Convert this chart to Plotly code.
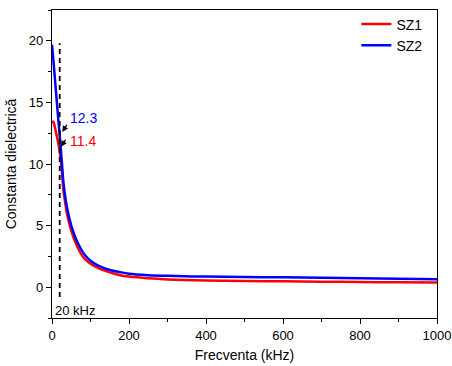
import plotly.graph_objects as go

freq_sz1 = [0, 3, 6, 10, 15, 20, 25, 30, 35, 40, 50, 60, 70, 80, 90, 100, 120, 150, 177, 200, 250, 300, 400, 500, 600, 700, 800, 900, 1000]
sz1 = [13.3, 13.45, 13.2, 12.6, 11.9, 11.0, 9.6, 7.8, 6.7, 5.8, 4.6, 3.7, 3.0, 2.5, 2.15, 1.9, 1.55, 1.2, 0.97, 0.86, 0.72, 0.63, 0.54, 0.5, 0.48, 0.45, 0.42, 0.4, 0.38]

freq_sz2 = [0, 5, 10, 15, 20, 25, 30, 35, 40, 50, 60, 70, 80, 90, 100, 120, 150, 177, 200, 250, 300, 400, 500, 600, 700, 800, 900, 1000]
sz2 = [19.7, 17.9, 16.0, 14.1, 12.3, 10.4, 8.4, 7.2, 6.3, 5.0, 4.1, 3.4, 2.85, 2.45, 2.15, 1.75, 1.4, 1.22, 1.1, 0.98, 0.92, 0.86, 0.82, 0.8, 0.76, 0.72, 0.68, 0.65]

marker_freq = 20
marker_y = [-0.8, 19.8]
label_sz1 = "11.4"
label_sz2 = "12.3"

FONT = "Liberation Sans, Arial, sans-serif"

fig = go.Figure()
fig.add_trace(go.Scatter(x=freq_sz1, y=sz1, mode="lines", name="SZ1",
                         line=dict(color="#ff0000", width=2.5, shape="spline")))
fig.add_trace(go.Scatter(x=freq_sz2, y=sz2, mode="lines", name="SZ2",
                         line=dict(color="#0000ff", width=2.5, shape="spline")))
fig.add_trace(go.Scatter(x=[marker_freq, marker_freq], y=marker_y, mode="lines",
                         showlegend=False,
                         line=dict(color="black", width=1.8, dash="5px,4px")))

# arrows
fig.add_annotation(x=26.8, y=12.6, ax=40.8, ay=13.3, axref="x", ayref="y",
                   text="", showarrow=True, arrowhead=2, arrowsize=1, arrowwidth=1.2,
                   arrowcolor="black")
fig.add_annotation(x=23.4, y=11.4, ax=38, ay=12.1, axref="x", ayref="y",
                   text="", showarrow=True, arrowhead=2, arrowsize=1, arrowwidth=1.2,
                   arrowcolor="black")
fig.add_annotation(x=41.5, y=13.75, text=label_sz2, showarrow=False, xanchor="left",
                   font=dict(family=FONT, size=14, color="#0000ff"))
fig.add_annotation(x=42, y=11.87, text=label_sz1, showarrow=False, xanchor="left",
                   font=dict(family=FONT, size=14, color="#ff0000"))
fig.add_annotation(x=2.0, y=-1.9, text="20 kHz", showarrow=False, xanchor="left",
                   font=dict(family=FONT, size=13, color="black"))

fig.update_layout(
    width=452, height=366,
    margin=dict(l=52, r=15, t=10, b=48, autoexpand=False),
    paper_bgcolor="white", plot_bgcolor="white",
    font=dict(family=FONT, size=12, color="black"),
    legend=dict(x=0.975, y=1.005, xanchor="right", yanchor="top",
                bgcolor="rgba(0,0,0,0)", font=dict(size=14, family=FONT),
                tracegroupgap=0, itemwidth=30),
    xaxis=dict(range=[0, 1000], tickvals=[0, 200, 400, 600, 800, 1000],
               ticks="outside", ticklen=5, tickwidth=1.2, tickcolor="black",
               minor=dict(tickvals=[100, 300, 500, 700, 900], ticks="outside", ticklen=3, tickcolor="black"),
               showline=True, linecolor="black", linewidth=1.3, mirror=True,
               showgrid=False, zeroline=False, automargin=False,
               tickfont=dict(size=13),
               title=dict(text="Frecventa (kHz)", font=dict(size=14), standoff=8)),
    yaxis=dict(range=[-2.5, 22.5], tickvals=[0, 5, 10, 15, 20],
               ticks="outside", ticklen=5, tickwidth=1.2, tickcolor="black",
               minor=dict(tickvals=[-2.5, 2.5, 7.5, 12.5, 17.5, 22.5], ticks="outside", ticklen=3, tickcolor="black"),
               showline=True, linecolor="black", linewidth=1.3, mirror=True,
               showgrid=False, zeroline=False, automargin=False,
               tickfont=dict(size=13),
               title=dict(text="Constanta dielectrică", font=dict(size=14), standoff=8)),
)

fig.write_html("out.html")
